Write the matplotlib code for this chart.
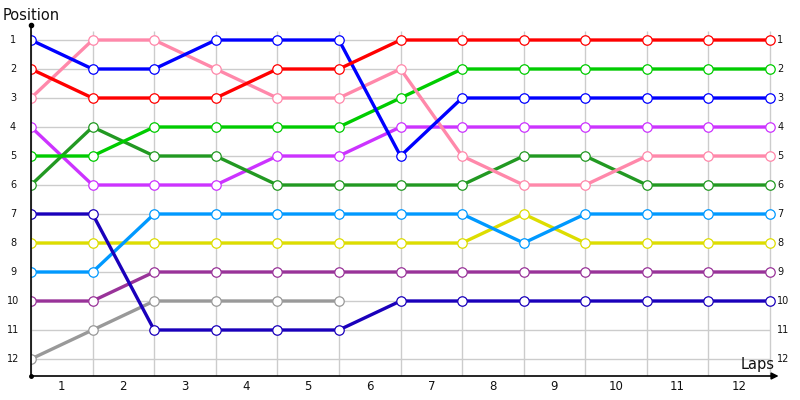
import matplotlib
matplotlib.use("Agg")
import matplotlib.pyplot as plt

laps = [1, 2, 3, 4, 5, 6, 7, 8, 9, 10, 11, 12]
positions = [1, 2, 3, 4, 5, 6, 7, 8, 9, 10, 11, 12]

red = [2, 3, 3, 3, 2, 2, 1, 1, 1, 1, 1, 1, 1]
blue = [1, 2, 2, 1, 1, 1, 5, 3, 3, 3, 3, 3, 3]
pink = [3, 1, 1, 2, 3, 3, 2, 5, 6, 6, 5, 5, 5]
green = [5, 5, 4, 4, 4, 4, 3, 2, 2, 2, 2, 2, 2]
darkgreen = [6, 4, 5, 5, 6, 6, 6, 6, 5, 5, 6, 6, 6]
violet = [4, 6, 6, 6, 5, 5, 4, 4, 4, 4, 4, 4, 4]
navy = [7, 7, 11, 11, 11, 11, 10, 10, 10, 10, 10, 10, 10]
skyblue = [9, 9, 7, 7, 7, 7, 7, 7, 8, 7, 7, 7, 7]
yellow = [8, 8, 8, 8, 8, 8, 8, 8, 7, 8, 8, 8, 8]
purple = [10, 10, 9, 9, 9, 9, 9, 9, 9, 9, 9, 9, 9]
gray = [12, 11, 10, 10, 10, 10]

series = [
    (gray, "#999999"),
    (purple, "#993399"),
    (yellow, "#dddd00"),
    (skyblue, "#0099ff"),
    (navy, "#1a00bb"),
    (violet, "#cc33ff"),
    (darkgreen, "#229922"),
    (green, "#00cc00"),
    (pink, "#ff88aa"),
    (blue, "#0000ff"),
    (red, "#ff0000"),
]

W, H = 800, 400
fig = plt.figure(figsize=(8, 4), dpi=100)
ax_left, ax_right, ax_top, ax_bot = 31, 776, 25, 376
ax = fig.add_axes([ax_left / W, 1 - ax_bot / H, (ax_right - ax_left) / W, (ax_bot - ax_top) / H])

x0px, x12px = 31, 770
ppx = (x12px - x0px) / 12.0
y1px, y12px = 40, 359
ppy = (y12px - y1px) / 11.0
ax.set_xlim(0, (ax_right - ax_left) / ppx)
ymin = 1 - (y1px - ax_top) / ppy
ymax = 12 + (ax_bot - y12px) / ppy
ax.set_ylim(ymax, ymin)

nlaps = len(laps)
# grid
ax.hlines(positions, 0, nlaps, colors="#cccccc", lw=1, zorder=1)
ax.vlines(range(nlaps + 1), ymax, 1 - (y1px - 31) / ppy, colors="#cccccc", lw=1, zorder=1)

for vals, col in series:
    xs = list(range(len(vals)))
    ax.plot(xs, vals, color=col, lw=2.4, zorder=3, solid_capstyle="round",
            marker="o", markersize=6.8, markerfacecolor="white",
            markeredgecolor=col, markeredgewidth=0.9)

for s in ax.spines.values():
    s.set_visible(False)
ax.set_xticks([])
ax.set_yticks([])

# axes lines
ax.plot([0, 0], [ymax, ymin], color="black", lw=1.2, zorder=4, clip_on=False)
ax.plot([0], [ymin], marker="o", color="black", markersize=3, zorder=4, clip_on=False)
ax.annotate("", xy=(12.14, ymax), xytext=(0, ymax),
            arrowprops=dict(arrowstyle="-|>", color="black", lw=1.2,
                            mutation_scale=10, shrinkA=0, shrinkB=0),
            zorder=4, annotation_clip=False)
ax.plot([0], [ymax], marker="o", color="black", markersize=2.5, zorder=4, clip_on=False)

trans_left = matplotlib.transforms.blended_transform_factory(fig.transFigure, ax.transData)
for p in positions:
    ax.text(13 / W, p, str(p), transform=trans_left, ha="center", va="center",
            fontsize=7, color="#111111")
    ax.text(12.12, p, str(p), ha="left", va="center", fontsize=7, color="#111111",
            clip_on=False)

for i, lap in enumerate(laps):
    ax.text(i + 0.5, ymax + 11 / ppy, str(lap), ha="center", va="center",
            fontsize=8.5, color="#111111", clip_on=False)

fig.text(3 / W, 1 - 15 / H, "Position", ha="left", va="center", fontsize=10.5, color="#111111")
fig.text(775 / W, 1 - 365 / H, "Laps", ha="right", va="center", fontsize=10.5, color="#111111")

fig.savefig("out.png", dpi=100)
